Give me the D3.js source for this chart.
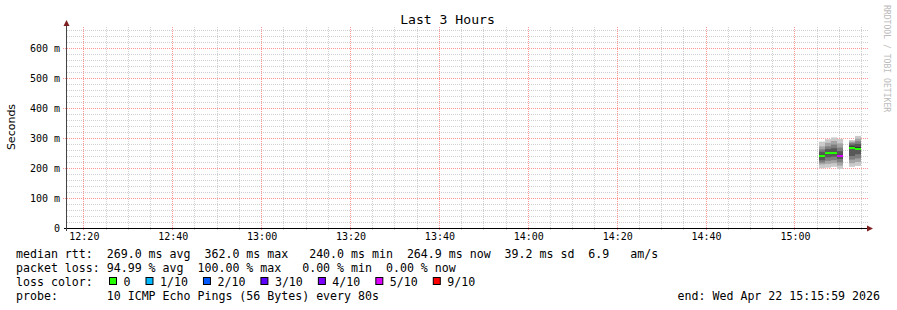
<!DOCTYPE html>
<meta charset="utf-8">
<style>
  body { margin: 0; background: #fff; }
  svg { display: block; }
  text { font-family: "DejaVu Sans Mono", monospace; fill: #000; }
</style>
<body></body>
<script src="https://cdn.jsdelivr.net/npm/d3@7/dist/d3.min.js"></script>
<script>

var title = "Last 3 Hours";
var yLabel = "Seconds";
var watermark = "RRDTOOL / TOBI OETIKER";
var startTime = "2026-04-22 12:15:59";
var endTime = "2026-04-22 15:15:59";

// one smoke column per 80s step (values in ms)
var sampleTimes = ["15:05:25", "15:06:45", "15:08:05", "15:09:25", "15:12:05", "15:13:25"];
var medians = [241, 250, 250, 241, 268, 265];
var lossCounts = [0, 0, 0, 5, 0, 0];
var pings = [
  [199, 212, 218, 226, 238, 244, 254, 262, 272, 288],
  [201, 214, 224, 236, 247, 253, 263, 272, 284, 296],
  [204, 216, 226, 238, 247, 253, 266, 278, 290, 302],
  [197, 208, 219, 230, 238, 244, 256, 268, 282, 297],
  [204, 216, 228, 240, 264, 272, 278, 284, 288, 293],
  [207, 220, 232, 246, 260, 270, 280, 289, 298, 307]
];

var yTicks = [0, 100, 200, 300, 400, 500, 600];
var xTickMinutes = 20;

var lossLabels = ["0", "1/10", "2/10", "3/10", "4/10", "5/10", "9/10"];
var lossLevels = [0, 1, 2, 3, 4, 5, 9];
var lossColors = ["#26ff00", "#00b8ff", "#0059ff", "#5e00ff", "#7e00ff", "#dd00ff", "#ff0000"];

var legendRows = [
  "median rtt:  269.0 ms avg  362.0 ms max   240.0 ms min  264.9 ms now  39.2 ms sd  6.9   am/s",
  "packet loss: 94.99 % avg  100.00 % max   0.00 % min  0.00 % now",
  "loss color:",
  "probe:       10 ICMP Echo Pings (56 Bytes) every 80s"
];
var endLabel = "end: Wed Apr 22 15:15:59 2026";

var W = 897, H = 310;
var pLeft = 66, pRight = 866, pTop = 28, pBottom = 228;
var minorColor = "#d0d0d0", majorColor = "#ff9595";

var svg = d3.select("body").append("svg")
    .attr("width", W)
    .attr("height", H);

var parse = d3.timeParse("%Y-%m-%d %H:%M:%S");
var t0 = parse(startTime), t1 = parse(endTime);

var x = d3.scaleTime().domain([t0, t1]).range([pLeft, pRight]);
var y = d3.scaleLinear().domain([0, 666.67]).range([pBottom, pTop]);

function px(v) { return Math.floor(v) + 0.5; }

// grid: minor lines first, major (red) on top
var minorG = svg.append("g").attr("stroke", minorColor).attr("stroke-dasharray", "1,1")
    .attr("shape-rendering", "crispEdges");
var majorG = svg.append("g").attr("stroke", majorColor).attr("stroke-dasharray", "1,1")
    .attr("shape-rendering", "crispEdges");
var vTimes = d3.timeMinute.every(5).range(t0, t1);
var hVals = d3.range(20, 670, 20);

minorG.selectAll("line.v")
    .data(vTimes.filter(function(t) { return t.getMinutes() % xTickMinutes !== 0; }))
    .enter().append("line")
    .attr("x1", function(t) { return px(x(t)); })
    .attr("x2", function(t) { return px(x(t)); })
    .attr("y1", pTop - 1).attr("y2", pBottom + 2);
minorG.selectAll("line.h")
    .data(hVals.filter(function(v) { return v % 100 !== 0; }))
    .enter().append("line")
    .attr("x1", pLeft + 1).attr("x2", pRight + 2)
    .attr("y1", function(v) { return px(y(v)); })
    .attr("y2", function(v) { return px(y(v)); });

majorG.selectAll("line.v")
    .data(vTimes.filter(function(t) { return t.getMinutes() % xTickMinutes === 0; }))
    .enter().append("line")
    .attr("x1", function(t) { return px(x(t)); })
    .attr("x2", function(t) { return px(x(t)); })
    .attr("y1", pTop - 1).attr("y2", pBottom + 3);
majorG.selectAll("line.h")
    .data(hVals.filter(function(v) { return v % 100 === 0; }))
    .enter().append("line")
    .attr("x1", pLeft - 3).attr("x2", pRight + 2)
    .attr("y1", function(v) { return px(y(v)); })
    .attr("y2", function(v) { return px(y(v)); });

// smoke
var stepMs = 80 * 1000;
var day = "2026-04-22 ";
sampleTimes.forEach(function(s, i) {
  var ts = parse(day + s);
  var xa = Math.round(x(ts)), xb = Math.round(x(new Date(+ts + stepMs)));
  var p = pings[i].slice().sort(d3.ascending);
  var n = p.length, half = Math.floor(n / 2);
  for (var k = 0; k < half; k++) {
    var lvl = Math.round(50 + 152 * (half - 1 - k) / (half - 1));
    svg.append("rect")
        .attr("x", xa).attr("width", xb - xa)
        .attr("y", y(p[n - 1 - k]))
        .attr("height", y(p[k]) - y(p[n - 1 - k]))
        .attr("fill", d3.rgb(lvl, lvl, lvl));
  }
  var li = 0;
  lossLevels.forEach(function(l, j) { if (lossCounts[i] >= l) li = j; });
  svg.append("rect")
      .attr("x", xa).attr("width", xb - xa)
      .attr("y", Math.round(y(medians[i])) - 1).attr("height", 2)
      .attr("fill", lossColors[li]);
});

// axes
var xAxis = d3.axisBottom(x)
    .ticks(d3.timeMinute.every(xTickMinutes))
    .tickFormat(d3.timeFormat("%H:%M"))
    .tickSize(0);
var gx = svg.append("g").attr("transform", "translate(0," + pBottom + ")").call(xAxis);
gx.select(".domain").remove();
gx.selectAll("text")
    .attr("y", 12).attr("dy", 0)
    .attr("font-family", "DejaVu Sans Mono").attr("font-size", 10);

var yAxis = d3.axisLeft(y)
    .tickValues(yTicks)
    .tickFormat(function(d) { return d === 0 ? "0" : d + " m"; })
    .tickSize(0);
var gy = svg.append("g").attr("transform", "translate(60,0)").call(yAxis);
gy.select(".domain").remove();
gy.selectAll("text")
    .attr("x", 0).attr("dy", "0.35em")
    .attr("font-family", "DejaVu Sans Mono").attr("font-size", 10);

svg.append("line")
    .attr("x1", pLeft - 2).attr("x2", pRight + 3)
    .attr("y1", pBottom + 0.5).attr("y2", pBottom + 0.5)
    .attr("stroke", "#000");
svg.append("line")
    .attr("x1", pLeft + 0.5).attr("x2", pLeft + 0.5)
    .attr("y1", pBottom + 3).attr("y2", pTop - 5)
    .attr("stroke", "#444");
svg.append("path")
    .attr("d", "M" + (pRight + 7) + "," + (pBottom + 0.5) + "l-6,-3v6z")
    .attr("fill", "#7f1f1f");
svg.append("path")
    .attr("d", "M" + (pLeft + 0.5) + "," + (pTop - 8) + "l-3,6h6z")
    .attr("fill", "#7f1f1f");

// titles
svg.append("text")
    .attr("x", 447.5).attr("y", 24)
    .attr("text-anchor", "middle")
    .attr("font-size", 13.1)
    .text(title);

svg.append("text")
    .attr("transform", "translate(15,127) rotate(-90)")
    .attr("text-anchor", "middle")
    .style("font-family", "'DejaVu Sans', sans-serif")
    .attr("font-size", 11)
    .text(yLabel);

svg.append("text")
    .attr("transform", "translate(884,5) rotate(90)")
    .attr("font-size", 8.1)
    .style("fill", "#bbb")
    .text(watermark);

// legend
var lg = svg.append("g").attr("font-size", 11.6);
legendRows.forEach(function(r, i) {
  lg.append("text")
      .attr("x", 16).attr("y", 258 + i * 14)
      .attr("xml:space", "preserve")
      .style("white-space", "pre")
      .text(r);
});
var cw = 6.99, bx = 109;
lossLabels.forEach(function(l, i) {
  lg.append("rect")
      .attr("x", bx + 0.5).attr("y", 277.5)
      .attr("width", 7).attr("height", 7)
      .attr("fill", lossColors[i]).attr("stroke", "#000");
  lg.append("text")
      .attr("x", bx + 14.5).attr("y", 286)
      .text(l);
  bx = bx + 14.5 + l.length * cw + 15;
});
lg.append("text")
    .attr("x", 880).attr("y", 300)
    .attr("text-anchor", "end")
    .text(endLabel);

</script>
